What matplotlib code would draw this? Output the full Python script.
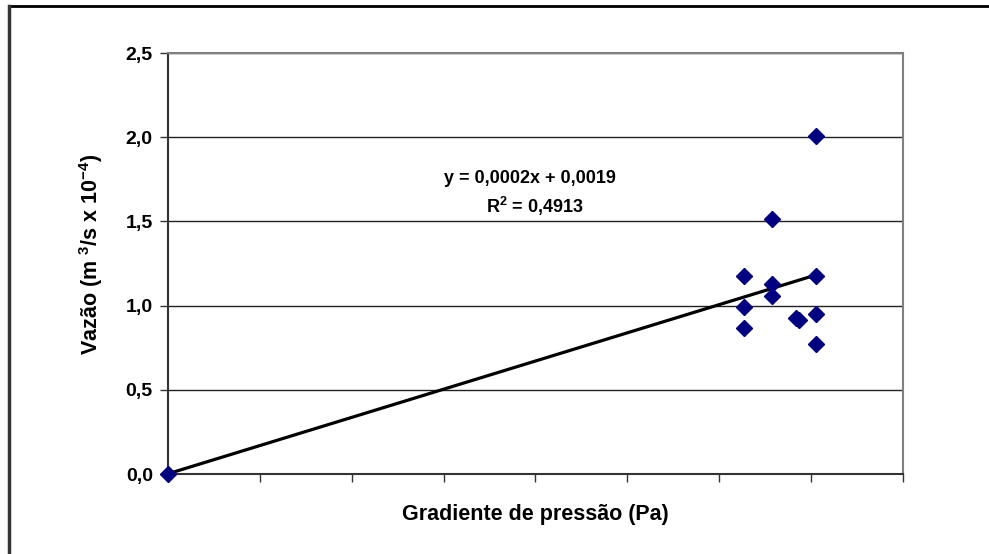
import numpy
import matplotlib
matplotlib.use("Agg")
import matplotlib.pyplot as plt
from matplotlib.ticker import FuncFormatter

plt.rcParams['font.family'] = ['Liberation Sans', 'DejaVu Sans']
plt.rcParams['mathtext.fontset'] = 'custom'
plt.rcParams['mathtext.bf'] = 'Liberation Sans:bold'
plt.rcParams['mathtext.rm'] = 'Liberation Sans:bold'

# Data (x in Pa, y in m3/s x 10^-4)
gradiente = [0, 6267, 6267, 6267, 6572, 6572, 6572, 6840, 6870, 7051, 7051, 7051, 7051]
vazao = [0.0, 1.176, 0.993, 0.869, 1.516, 1.126, 1.057, 0.925, 0.915, 2.009, 1.176, 0.948, 0.772]
y_ticks = [0.0, 0.5, 1.0, 1.5, 2.0, 2.5]
x_ticks = [0, 1000, 2000, 3000, 4000, 5000, 6000, 7000, 8000]

x = numpy.array(gradiente)
y = numpy.array(vazao)

fig = plt.figure(figsize=(9.89, 5.54), dpi=100)

# Outer chart border (only top and left edges visible)
fig.add_artist(plt.Line2D([0.0095, 1.0], [0.989, 0.989], color='black', lw=2, transform=fig.transFigure))
fig.add_artist(plt.Line2D([0.0095, 0.0095], [0.0, 0.989], color='#333333', lw=2.5, transform=fig.transFigure))

ax = fig.add_axes([0.1699, 0.1444, 0.7431, 0.7599])

# Trend line from least squares fit
slope, intercept = numpy.polyfit(x, y, 1)
xl = numpy.array([0, x.max()])
ax.plot(xl, slope * xl + intercept, color='black', lw=2.3, zorder=3)

ax.plot(x, y, linestyle='none', marker='D', markersize=8, color='#000080', zorder=4, clip_on=False)

ax.set_xlim(0, 8000)
ax.set_ylim(0, 2.5)
ax.set_yticks(y_ticks)
ax.set_xticks(x_ticks)
ax.set_xticklabels([])
ax.yaxis.set_major_formatter(FuncFormatter(lambda v, p: f"{v:.1f}".replace('.', ',')))
ax.tick_params(axis='both', direction='out', length=6, width=1, color='#333333')
ax.tick_params(axis='y', labelsize=14, pad=5)
for lab in ax.get_yticklabels():
    lab.set_fontweight('bold')

ax.grid(axis='y', color='#222222', lw=1)
ax.set_axisbelow(True)

for side in ['top', 'right']:
    ax.spines[side].set_color('#808080')
    ax.spines[side].set_linewidth(1.5)
for side in ['left', 'bottom']:
    ax.spines[side].set_color('#333333')
    ax.spines[side].set_linewidth(1.5)

ax.set_xlabel('Gradiente de pressão (Pa)', fontsize=15.5, fontweight='bold')
ax.xaxis.set_label_coords(0.5, -0.072)
ax.set_ylabel(r'Vazão (m $^{3}$/s x 10$^{-4}$)', fontsize=15.5, fontweight='bold')
ax.yaxis.set_label_coords(-0.0857, 0.5226)

ax.text(0.4925, 0.703, 'y = 0,0002x + 0,0019', transform=ax.transAxes, ha='center', va='center',
        fontsize=13, fontweight='bold')
ax.text(0.499, 0.6366, r'R$^{2}$ = 0,4913', transform=ax.transAxes, ha='center', va='center',
        fontsize=13, fontweight='bold')

plt.savefig('out.png', dpi=100)
